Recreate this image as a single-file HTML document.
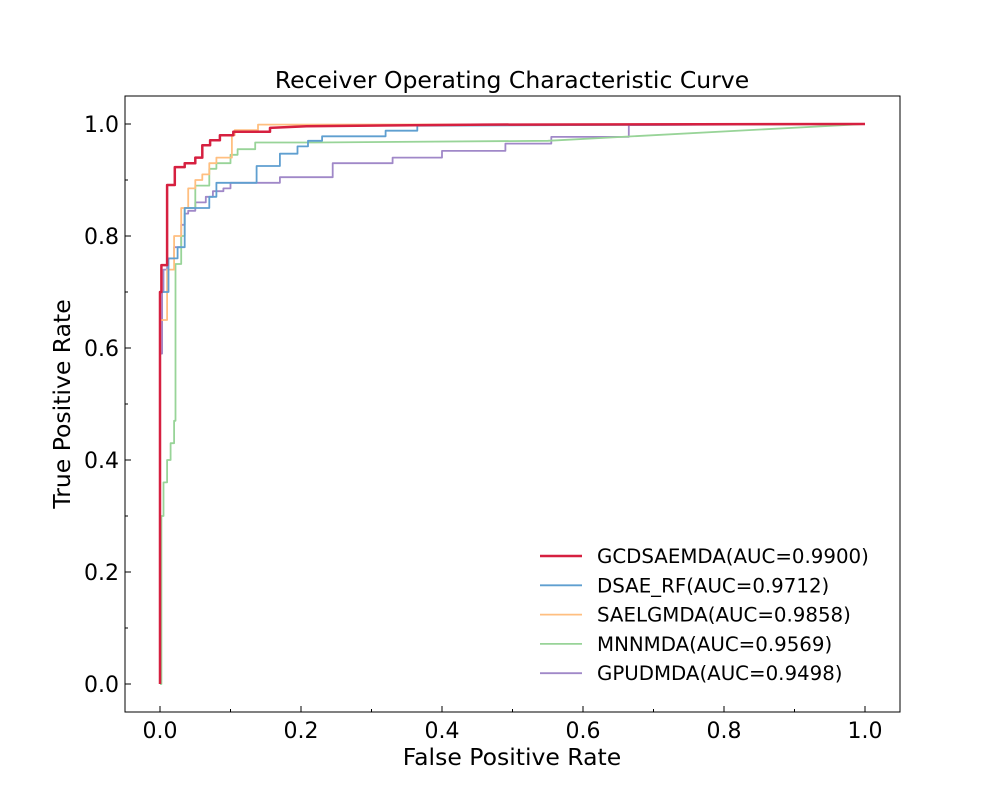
<!DOCTYPE html>
<html><head><meta charset="utf-8"><style>
body{margin:0;background:#fff}
svg{display:block;font-family:"DejaVu Sans","Liberation Sans",sans-serif}
</style></head><body>
<svg id="chart" width="1000" height="800" viewBox="0 0 1000 800">
<rect x="0" y="0" width="1000" height="800" fill="#fff"/>
<text x="512" y="88" font-size="23.5" text-anchor="middle">Receiver Operating Characteristic Curve</text>
<g id="curves"></g>
<rect x="125" y="96" width="775" height="616" fill="none" stroke="#000" stroke-width="1"/>
<g id="axes"></g>
<text x="512" y="765" font-size="23.5" text-anchor="middle">False Positive Rate</text>
<text x="70" y="404" font-size="23.5" text-anchor="middle" transform="rotate(-90 70 404)">True Positive Rate</text>
<g id="legend"></g>
</svg>
<script>
const seriesNames = ["GCDSAEMDA(AUC=0.9900)","DSAE_RF(AUC=0.9712)","SAELGMDA(AUC=0.9858)","MNNMDA(AUC=0.9569)","GPUDMDA(AUC=0.9498)"];
const seriesColors = ["#d62040","#5f9fd0","#ffbf80","#98d498","#a088c8"];
const seriesWidths = [2.5,1.8,1.8,1.8,1.8];
const redFpr = [0,0,0.002,0.01,0.01,0.021,0.021,0.035,0.05,0.06,0.071,0.085,0.104,0.142,0.156,0.208,0.46,1];
const redTpr = [0,0.70,0.748,0.748,0.891,0.891,0.923,0.93,0.94,0.962,0.971,0.98,0.986,0.986,0.993,0.996,0.999,1];
const blueFpr = [0,0,0.012,0.012,0.025,0.035,0.035,0.07,0.07,0.08,0.08,0.137,0.137,0.17,0.17,0.195,0.195,0.21,0.21,0.23,0.23,0.32,0.32,0.365,0.365,1];
const blueTpr = [0,0.70,0.70,0.76,0.78,0.78,0.85,0.855,0.87,0.87,0.895,0.895,0.925,0.925,0.947,0.95,0.96,0.96,0.97,0.97,0.978,0.978,0.988,0.99,0.997,1];
const orangeFpr = [0,0,0.01,0.02,0.03,0.04,0.05,0.06,0.07,0.08,0.102,0.102,0.106,0.139,0.139,1];
const orangeTpr = [0,0.65,0.74,0.80,0.85,0.885,0.90,0.91,0.93,0.94,0.948,0.98,0.989,0.989,0.999,1];
const greenFpr = [0,0.002,0.005,0.01,0.015,0.02,0.022,0.022,0.03,0.035,0.05,0.07,0.08,0.1,0.11,0.135,0.135,0.22,0.55,1];
const greenTpr = [0,0.30,0.36,0.40,0.43,0.47,0.47,0.75,0.80,0.85,0.89,0.92,0.93,0.945,0.955,0.955,0.967,0.967,0.97,1];
const purpleFpr = [0,0,0.003,0.005,0.01,0.02,0.03,0.035,0.04,0.05,0.065,0.075,0.09,0.1,0.17,0.17,0.245,0.245,0.33,0.33,0.4,0.4,0.49,0.49,0.555,0.555,0.66,0.665,0.665,1];
const purpleTpr = [0,0.59,0.70,0.74,0.76,0.78,0.82,0.84,0.845,0.86,0.87,0.88,0.885,0.895,0.895,0.905,0.905,0.93,0.93,0.94,0.94,0.952,0.952,0.965,0.965,0.977,0.977,0.99,0.998,1];
const xTicks = [0,0.2,0.4,0.6,0.8,1.0];
const xTickLabels = ["0.0","0.2","0.4","0.6","0.8","1.0"];
const yTicks = [0,0.2,0.4,0.6,0.8,1.0];
const yTickLabels = ["0.0","0.2","0.4","0.6","0.8","1.0"];
const minorTicks = [0.1,0.3,0.5,0.7,0.9];

const NS = "http://www.w3.org/2000/svg";
const sx = v => 160 + v * 705;
const sy = v => 684 - v * 560;
function mk(tag, attrs, parent){const e=document.createElementNS(NS,tag);for(const k in attrs)e.setAttribute(k,attrs[k]);parent.appendChild(e);return e;}

const curves = document.getElementById('curves');
const allF = [redFpr, blueFpr, orangeFpr, greenFpr, purpleFpr];
const allT = [redTpr, blueTpr, orangeTpr, greenTpr, purpleTpr];
const order = [4,3,2,1,0];
order.forEach(i => {
  const F = allF[i], T = allT[i];
  let d = 'M' + sx(F[0]).toFixed(1) + ' ' + sy(T[0]).toFixed(1);
  for (let j = 1; j < F.length; j++) {
    if (F[j] - F[j-1] < 0.05 && F[j] !== F[j-1] && T[j] !== T[j-1]) {
      d += ' L' + sx(F[j]).toFixed(1) + ' ' + sy(T[j-1]).toFixed(1);
    }
    d += ' L' + sx(F[j]).toFixed(1) + ' ' + sy(T[j]).toFixed(1);
  }
  const p = mk('path',{d:d,fill:'none',stroke:seriesColors[i],'stroke-width':seriesWidths[i],'stroke-linejoin':'round'},curves);
  
  
});

const axes = document.getElementById('axes');
xTicks.forEach((v,i)=>{
  const l = mk('line',{x1:sx(v),x2:sx(v),y1:712,y2:706,stroke:'#000'},axes);
  
  
  const t = mk('text',{x:sx(v),y:738,'font-size':22,'text-anchor':'middle'},axes);
  t.textContent = xTickLabels[i];
  
  
});
yTicks.forEach((v,i)=>{
  const l = mk('line',{x1:125,x2:131,y1:sy(v),y2:sy(v),stroke:'#000'},axes);
  
  
  const t = mk('text',{x:119,y:sy(v)+8,'font-size':22,'text-anchor':'end'},axes);
  t.textContent = yTickLabels[i];
  
  
});
minorTicks.forEach(v=>{
  const a = mk('line',{x1:sx(v),x2:sx(v),y1:712,y2:709,stroke:'#000'},axes);
  
  
  const b = mk('line',{x1:125,x2:128,y1:sy(v),y2:sy(v),stroke:'#000'},axes);
  
  
});

const legend = document.getElementById('legend');
seriesNames.forEach((n,i)=>{
  const y = 556 + i*29.3;
  const l = mk('line',{x1:540,x2:582,y1:y,y2:y,stroke:seriesColors[i],'stroke-width':seriesWidths[i]},legend);
  
  
  const t = mk('text',{x:597,y:y+7,'font-size':19.8},legend);
  t.textContent = n;
  
  
});
</script>
</body></html>
